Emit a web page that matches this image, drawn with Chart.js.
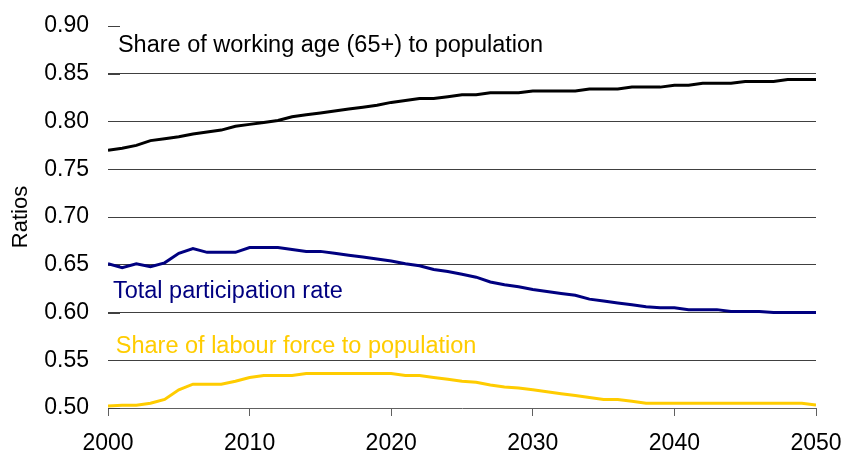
<!DOCTYPE html>
<html lang="en">
<head>
  <meta charset="UTF-8" />
  <title>Ratios 2000-2050</title>
  <script src="https://cdn.jsdelivr.net/npm/chart.js"></script>
  <style>
    html, body { margin: 0; padding: 0; background: #fff; }
    #wrap { width: 841px; height: 450px; }
  </style>
</head>
<body>
  <div id="wrap"><canvas id="ratioChart" width="841" height="450"></canvas></div>

  <script>
    // years on the x axis
    const years = [];
    for (let y = 2000; y <= 2050; y++) years.push(y);

    // share of working age (65+) to population
    const workingAge = [
      0.770, 0.772, 0.775, 0.780, 0.782, 0.784, 0.787, 0.789, 0.791, 0.795,
      0.797, 0.799, 0.801, 0.805, 0.807, 0.809, 0.811, 0.813, 0.815, 0.817,
      0.820, 0.822, 0.824, 0.824, 0.826, 0.828, 0.828, 0.830, 0.830, 0.830,
      0.832, 0.832, 0.832, 0.832, 0.834, 0.834, 0.834, 0.836, 0.836, 0.836,
      0.838, 0.838, 0.840, 0.840, 0.840, 0.842, 0.842, 0.842, 0.844, 0.844,
      0.844
    ];

    // total participation rate
    const participation = [
      0.651, 0.647, 0.651, 0.648, 0.652, 0.662, 0.667, 0.663, 0.663, 0.663,
      0.668, 0.668, 0.668, 0.666, 0.664, 0.664, 0.662, 0.660, 0.658, 0.656,
      0.654, 0.651, 0.649, 0.645, 0.643, 0.640, 0.637, 0.632, 0.629, 0.627,
      0.624, 0.622, 0.620, 0.618, 0.614, 0.612, 0.610, 0.608, 0.606, 0.605,
      0.605, 0.603, 0.603, 0.603, 0.601, 0.601, 0.601, 0.600, 0.600, 0.600,
      0.600
    ];

    // share of labour force to population
    const labourForce = [
      0.502, 0.503, 0.503, 0.505, 0.509, 0.519, 0.525, 0.525, 0.525, 0.528,
      0.532, 0.534, 0.534, 0.534, 0.536, 0.536, 0.536, 0.536, 0.536, 0.536,
      0.536, 0.534, 0.534, 0.532, 0.530, 0.528, 0.527, 0.524, 0.522, 0.521,
      0.519, 0.517, 0.515, 0.513, 0.511, 0.509, 0.509, 0.507, 0.505, 0.505,
      0.505, 0.505, 0.505, 0.505, 0.505, 0.505, 0.505, 0.505, 0.505, 0.505,
      0.503
    ];

    const xTicks = [2000, 2010, 2020, 2030, 2040, 2050];
    const yTicks = [0.50, 0.55, 0.60, 0.65, 0.70, 0.75, 0.80, 0.85, 0.90];

    const FONT = "'Liberation Sans', Arial, sans-serif";

    function toPoints(values) {
      return years.map((yr, i) => ({ x: yr, y: values[i] }));
    }

    // line labels written inside the plot, anchored to data coordinates
    const lineLabels = [
      { text: 'Share of working age (65+) to population', x: 2000.7, y: 0.8725, color: '#000000' },
      { text: 'Total participation rate', x: 2000.35, y: 0.6155, color: '#000080' },
      { text: 'Share of labour force to population', x: 2000.55, y: 0.5580, color: '#FFCC00' }
    ];

    const labelPlugin = {
      id: 'lineLabels',
      afterDatasetsDraw(chart) {
        const ctx = chart.ctx;
        const xs = chart.scales.x, ys = chart.scales.y;
        ctx.save();
        ctx.font = '23.5px ' + FONT;
        ctx.textAlign = 'left';
        ctx.textBaseline = 'alphabetic';
        lineLabels.forEach(l => {
          ctx.fillStyle = l.color;
          ctx.fillText(l.text, xs.getPixelForValue(l.x), ys.getPixelForValue(l.y));
        });
        ctx.restore();
      }
    };

    // short inward tick marks on the value axis
    const innerTicks = {
      id: 'innerTicks',
      beforeDatasetsDraw(chart) {
        const ctx = chart.ctx;
        const ys = chart.scales.y;
        const left = chart.chartArea.left;
        ctx.save();
        ctx.strokeStyle = '#404040';
        ctx.lineWidth = 1;
        yTicks.forEach(v => {
          const py = Math.round(ys.getPixelForValue(v)) + 0.5;
          ctx.beginPath();
          ctx.moveTo(left, py);
          ctx.lineTo(left + 12, py);
          ctx.stroke();
        });
        ctx.restore();
      }
    };

    const ctx = document.getElementById('ratioChart').getContext('2d');
    new Chart(ctx, {
      type: 'line',
      data: {
        datasets: [
          { label: 'Share of working age (65+) to population', data: toPoints(workingAge),
            borderColor: '#000000', borderWidth: 3, pointRadius: 0, tension: 0 },
          { label: 'Total participation rate', data: toPoints(participation),
            borderColor: '#000080', borderWidth: 3, pointRadius: 0, tension: 0 },
          { label: 'Share of labour force to population', data: toPoints(labourForce),
            borderColor: '#FFCC00', borderWidth: 3, pointRadius: 0, tension: 0 }
        ]
      },
      options: {
        responsive: false,
        animation: false,
        layout: { padding: { top: 26, right: 25, left: 0, bottom: 0 } },
        plugins: {
          legend: { display: false },
          tooltip: { enabled: false }
        },
        scales: {
          x: {
            type: 'linear',
            min: 2000,
            max: 2050,
            afterBuildTicks(scale) { scale.ticks = xTicks.map(v => ({ value: v })); },
            afterFit(scale) {
              scale.height = 42;
              scale.paddingLeft = 0;
              scale.paddingRight = 0;
            },
            ticks: {
              color: '#000000',
              font: { family: FONT, size: 23 },
              padding: 14,
              maxRotation: 0,
              callback: v => String(v)
            },
            grid: { drawOnChartArea: false, drawTicks: true, tickLength: 8, color: '#606060' },
            border: { display: true, color: '#606060', width: 1 }
          },
          y: {
            min: 0.5,
            max: 0.9,
            afterBuildTicks(scale) { scale.ticks = yTicks.map(v => ({ value: v })); },
            afterFit(scale) {
              scale.width = 108;
              scale.paddingTop = 0;
              scale.paddingBottom = 0;
            },
            title: {
              display: true,
              text: 'Ratios',
              color: '#000000',
              font: { family: FONT, size: 22 },
              padding: { top: 8, bottom: 0 }
            },
            ticks: {
              color: '#000000',
              font: { family: FONT, size: 23 },
              padding: 19,
              callback: v => Number(v).toFixed(2)
            },
            grid: {
              drawTicks: false,
              color: c => (c.tick && (c.tick.value >= 0.899 || c.tick.value <= 0.501)) ? 'rgba(0,0,0,0)' : '#404040',
              lineWidth: 1
            },
            border: { display: false }
          }
        }
      },
      plugins: [innerTicks, labelPlugin]
    });
  </script>
</body>
</html>
